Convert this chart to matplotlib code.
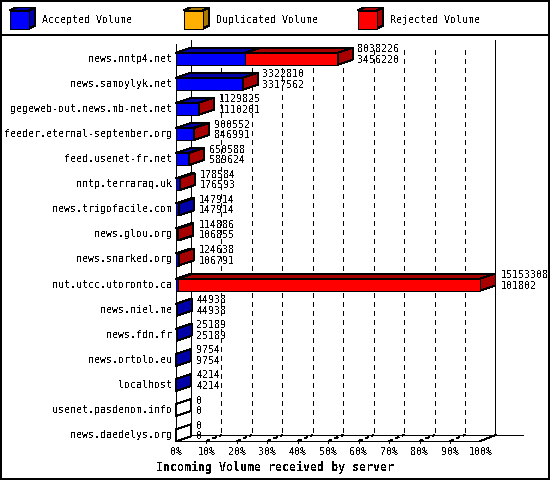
import matplotlib
matplotlib.use('Agg')
import matplotlib.pyplot as plt
from matplotlib.patches import Polygon, Rectangle
from matplotlib.lines import Line2D

servers = ['news.nntp4.net', 'news.samoylyk.net', 'gegeweb-out.news.mb-net.net',
           'feeder.eternal-september.org', 'feed.usenet-fr.net', 'nntp.terraraq.uk',
           'news.trigofacile.com', 'news.glou.org', 'news.snarked.org',
           'nut.utcc.utoronto.ca', 'news.niel.me', 'news.fdn.fr', 'news.ortolo.eu',
           'localhost', 'usenet.pasdenom.info', 'news.daedelys.org']
total = [8038226, 3322810, 1129825, 900552, 650588, 178584, 147914, 114886, 124638,
         15153308, 44938, 25189, 9754, 4214, 0, 0]
accepted = [3456220, 3317562, 1110201, 846991, 589624, 176593, 147914, 106855, 106791,
            101802, 44938, 25189, 9754, 4214, 0, 0]
duplicated = [0] * len(servers)
rejected = [t - a - d for t, a, d in zip(total, accepted, duplicated)]

series = ['Accepted Volume', 'Duplicated Volume', 'Rejected Volume']
face = ['#0000ff', '#ffb000', '#ff0000']
dark = ['#0000a8', '#a87800', '#a80000']
ticks = list(range(0, 101, 10))
title = 'Incoming Volume received by server'

plt.rcParams['text.antialiased'] = False
MONO = 'DejaVu Sans Mono'
FS = 7.2
LW = 0.72

W, H = 550, 480
fig = plt.figure(figsize=(5.5, 4.8), dpi=100)

# front plane of the plot, pixels from top-left
L, R, T, B = 176, 480.5, 44, 441
row0, pitch = 58.7, 25.1
ax = fig.add_axes([L / W, 1 - B / H, (R - L) / W, (B - T) / H])
ax.set_xlim(0, 100)
ytop, ybot = (T - row0) / pitch, (B - row0) / pitch
ax.set_ylim(ybot, ytop)
ax.axis('off')

px = 100 / (R - L)   # percent per pixel
py = 1 / pitch       # rows per pixel
DX, DY = 15 * px, 5 * py    # bar depth
WX, WY = 15 * px, 6 * py    # wall depth
back_top = ytop - 4 * py
floor = ybot - WY


def line(xs, ys, **kw):
    kw.setdefault('color', 'black')
    kw.setdefault('lw', LW)
    ax.add_line(Line2D(xs, ys, clip_on=False, antialiased=False, **kw))


def poly(a, pts, fc):
    a.add_patch(Polygon(pts, closed=True, fc=fc, ec='black', lw=LW,
                        clip_on=False, antialiased=False, zorder=3))


# back wall grid
for p in ticks[1:-1]:
    line([p + WX, p + WX], [ytop + 6 * py, floor], linestyle=(0, (5, 5)), zorder=1)
    line([p, p + WX], [ybot, floor], linestyle=(0, (4, 3)), zorder=1)
    line([p, p], [ybot, ybot + 2 * py], zorder=1)

# frame
line([0, 0], [ytop, ybot], zorder=1)
line([WX, WX], [back_top, floor], zorder=1)
line([100 + WX, 100 + WX], [back_top, floor], zorder=1)
line([0, 100], [ybot, ybot], zorder=1)
line([0, WX], [ybot, floor], zorder=1)
line([100, 100 + WX], [ybot, floor], zorder=1)
line([WX, 100 + WX + 27.5 * px], [floor, floor], zorder=1)

vmax = max(total)
for i, name in enumerate(servers):
    top, bot = i - 6 * py, i + 6 * py
    vals = [accepted[i], duplicated[i], rejected[i]]
    x0 = 0
    last = None
    for k, v in enumerate(vals):
        if v <= 0:
            continue
        x1 = x0 + v / vmax * 100
        poly(ax, [(x0, top), (x1, top), (x1, bot), (x0, bot)], face[k])
        poly(ax, [(x0, top), (x1, top), (x1 + DX, top - DY), (x0 + DX, top - DY)], dark[k])
        x0 = x1
        last = k
    side = dark[last] if last is not None else 'white'
    poly(ax, [(x0, top), (x0 + DX, top - DY), (x0 + DX, bot - DY), (x0, bot)], side)
    tx = x0 + DX + 5 * px
    ax.text(tx, i - 9.5 * py, str(total[i]), family=MONO, fontsize=FS,
            ha='left', va='center', zorder=4)
    ax.text(tx, i + 1 * py, str(accepted[i]), family=MONO, fontsize=FS,
            ha='left', va='center', zorder=4)
    ax.text(-4 * px, i, name, family=MONO, fontsize=FS, ha='right', va='center')

for p in ticks:
    ax.text(p, ybot + 10.7 * py, '%d%%' % p, family=MONO, fontsize=FS,
            ha='center', va='center')

fig.text(0.5, 1 - 467 / H, title, family=MONO, fontsize=8.4, fontweight='bold',
         ha='center', va='center')

# legend header
hax = fig.add_axes([0, 1 - 35 / H, 1, 35 / H])
hax.set_xlim(0, W)
hax.set_ylim(35, 0)
hax.axis('off')
for k, s in enumerate(series):
    x0 = 10 + 174 * k
    poly(hax, [(x0, 10.5), (x0 + 19, 10.5), (x0 + 25, 7.5), (x0 + 6, 7.5)], dark[k])
    poly(hax, [(x0 + 19, 10.5), (x0 + 25, 7.5), (x0 + 25, 25.5), (x0 + 19, 28.5)], dark[k])
    poly(hax, [(x0, 10.5), (x0 + 19, 10.5), (x0 + 19, 28.5), (x0, 28.5)], face[k])
    hax.text(x0 + 32, 20, s, family=MONO, fontsize=FS, ha='left', va='center')

fig.add_artist(Line2D([0, 1], [1 - 35 / H, 1 - 35 / H], transform=fig.transFigure,
                      color='black', lw=1.44, antialiased=False))
fig.add_artist(Rectangle((0, 0), 1, 1, transform=fig.transFigure, fill=False,
                         ec='black', lw=1.6, antialiased=False))

fig.savefig('out.png', dpi=100, facecolor='white')
